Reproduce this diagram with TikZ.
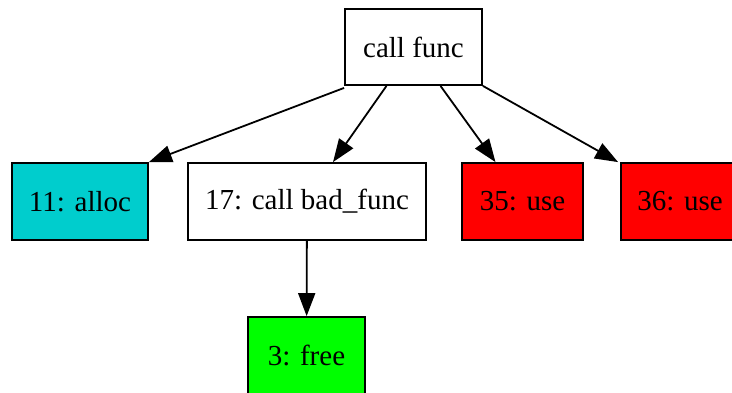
\documentclass[tikz,border=0pt]{standalone}
\usepackage{fontspec}
\setmainfont{Liberation Serif}
\usetikzlibrary{arrows.meta}
\definecolor{cyanthree}{RGB}{0,205,205}
\definecolor{pureRed}{RGB}{255,0,0}
\definecolor{pureGreen}{RGB}{0,255,0}
\begin{document}
\begin{tikzpicture}[x=1pt,y=-1pt,
  box/.style={draw=black, line width=1.8pt, inner sep=0pt, minimum height=77pt,
    font=\fontsize{29}{34}\selectfont},
  edge/.style={draw=black, line width=1.8pt, -{Triangle[length=23pt,width=17pt]}}]
  \useasboundingbox (0,0) rectangle (732,392);

  \node[box, minimum width=137pt, minimum height=76pt] (call) at (413.5,47) {call func};
  \node[box, fill=cyanthree, minimum width=136pt] (alloc) at (80,201.5) {11: alloc};
  \node[box, minimum width=238pt] (bad) at (307,201.5) {17: call bad\_func};
  \node[box, fill=pureRed, minimum width=121pt] (usea) at (522.5,201.5) {35: use};
  \node[box, fill=pureRed, minimum width=118pt] (useb) at (680,201.5) {36: use};
  \node[box, fill=pureGreen, minimum width=117pt] (free) at (306.5,355.5) {3: free};

  \draw[edge] ([yshift=-2pt]call.south west) -- (alloc.north east);
  \draw[edge] ([xshift=-27pt]call.south) -- ([xshift=26pt]bad.north);
  \draw[edge] ([xshift=27pt]call.south) -- ([xshift=-27pt]usea.north);
  \draw[edge] (call.south east) -- ([xshift=-2pt]useb.north west);
  \draw[edge] (bad) -- (free);
\end{tikzpicture}
\end{document}
